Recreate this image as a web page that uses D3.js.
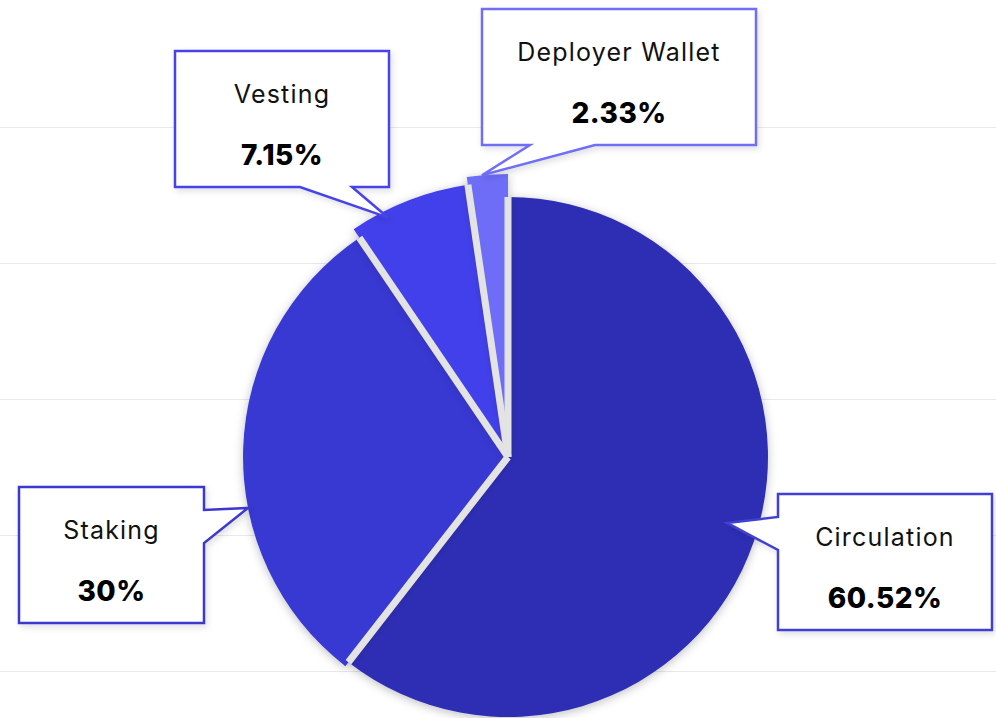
<!DOCTYPE html>
<html>
<head>
<meta charset="utf-8">
<script src="https://cdn.jsdelivr.net/npm/d3@7"></script>
<style>
  html, body { margin: 0; padding: 0; background: #ffffff; }
  svg { display: block; }
</style>
</head>
<body>
<div id="pie-viz"></div>
<script>
// Chart size
const width = 996;
const height = 718;

// Data
const categories = ["Circulation", "Staking", "Vesting", "Deployer Wallet"];
const shares = [60.52, 30, 7.15, 2.33];
const shareLabels = ["60.52%", "30%", "7.15%", "2.33%"];
const gridTicks = [0, 1, 2, 3, 4];

// Styles
const sliceColors = ["#2f2eb5", "#3938d2", "#4341ea", "#6e6df7"];
const borderColors = ["#4241d2", "#3a39d0", "#4643ea", "#6f6ef6"];

const data = categories.map((c, i) => ({ name: c, value: shares[i], label: shareLabels[i], index: i }));

const svg = d3.select("#pie-viz")
    .append("svg")
    .attr("width", width)
    .attr("height", height);

const defs = svg.append("defs");
defs.append("filter")
    .attr("id", "slice-shadow")
    .attr("x", "-20%").attr("y", "-20%").attr("width", "140%").attr("height", "140%")
    .append("feDropShadow")
    .attr("dx", 0).attr("dy", 2).attr("stdDeviation", 5)
    .attr("flood-color", "#000").attr("flood-opacity", 0.25);
defs.append("filter")
    .attr("id", "box-shadow")
    .attr("x", "-20%").attr("y", "-20%").attr("width", "140%").attr("height", "140%")
    .append("feDropShadow")
    .attr("dx", 2).attr("dy", 3).attr("stdDeviation", 3)
    .attr("flood-color", "#000").attr("flood-opacity", 0.12);

// Background grid lines
const yGrid = d3.scaleLinear().domain([0, 4]).range([127, 671]);
svg.append("g")
    .selectAll("line")
    .data(gridTicks)
    .join("line")
    .attr("x1", 0).attr("x2", width)
    .attr("y1", d => yGrid(d) + 0.5).attr("y2", d => yGrid(d) + 0.5)
    .attr("stroke", "#e9e9e9")
    .attr("stroke-width", 1);

// Pie
const cx = 508, cy = 457;
const radius = d3.scaleLog()
    .domain([d3.min(shares), d3.max(shares)])
    .range([283, 260]);

const pie = d3.pie().sort(null).value(d => d.value);
const arcs = pie(data);

const g = svg.append("g").attr("transform", `translate(${cx},${cy})`);

g.selectAll("path.slice")
    .data(arcs)
    .join("path")
    .attr("class", "slice")
    .attr("d", d => d3.arc().innerRadius(0).outerRadius(radius(d.data.value))(d))
    .attr("fill", d => sliceColors[d.data.index])
    .attr("filter", "url(#slice-shadow)");

// Gaps between slices
const gapLen = (d, i) => {
    const prev = arcs[(i + arcs.length - 1) % arcs.length];
    return Math.min(radius(d.data.value), radius(prev.data.value));
};
g.selectAll("line.gap")
    .data(arcs)
    .join("line")
    .attr("class", "gap")
    .attr("x1", 0).attr("y1", 0)
    .attr("x2", (d, i) => gapLen(d, i) * Math.sin(d.startAngle))
    .attr("y2", (d, i) => -gapLen(d, i) * Math.cos(d.startAngle))
    .attr("stroke", "#e3e3e3")
    .attr("stroke-width", 7);

// Callout boxes (layout only)
const boxH = 136;
const callouts = [
    { index: 0, x: 778, y: 494, w: 214, side: "left", t0: 23, t1: 56, frac: 0.49, rf: 0.88 },
    { index: 1, x: 19, y: 487, w: 185, side: "right", t0: 23, t1: 56, frac: 0.38, rf: 1.0 },
    { index: 2, x: 175, y: 51, w: 214, side: "bottom", t0: 125, t1: 177, frac: 0.29, rf: 0.975 },
    { index: 3, x: 482, y: 9, w: 274, side: "bottom", t0: 48, t1: 113, frac: 0.37, rf: 1.0 }
];

function tipPoint(c) {
    const a = arcs[c.index];
    const ang = a.startAngle + (a.endAngle - a.startAngle) * c.frac;
    const r = radius(a.data.value) * c.rf;
    return [cx + r * Math.sin(ang), cy - r * Math.cos(ang)];
}

function calloutPath(c) {
    const { x, y, w, side, t0, t1 } = c;
    const h = boxH;
    const tip = tipPoint(c);
    const pts = [[x, y], [x + w, y]];
    if (side === "right") pts.push([x + w, y + t0], tip, [x + w, y + t1]);
    pts.push([x + w, y + h]);
    if (side === "bottom") pts.push([x + t1, y + h], tip, [x + t0, y + h]);
    pts.push([x, y + h]);
    if (side === "left") pts.push([x, y + t1], tip, [x, y + t0]);
    return "M" + pts.map(p => p.join(",")).join("L") + "Z";
}

const boxes = svg.append("g")
    .selectAll("g.callout")
    .data(callouts)
    .join("g")
    .attr("class", "callout");

boxes.append("path")
    .attr("d", calloutPath)
    .attr("fill", "#ffffff")
    .attr("stroke", d => borderColors[d.index])
    .attr("stroke-width", 2.5)
    .attr("stroke-linejoin", "miter")
    .attr("filter", "url(#box-shadow)");

boxes.append("text")
    .attr("x", d => d.x + d.w / 2)
    .attr("y", d => d.y + 52)
    .attr("text-anchor", "middle")
    .style("font-family", "Inter, 'Open Sans', sans-serif")
    .style("font-size", "25px")
    .style("font-weight", 400)
    .style("letter-spacing", "1.2px")
    .attr("fill", "#111")
    .text(d => data[d.index].name);

boxes.append("text")
    .attr("x", d => d.x + d.w / 2)
    .attr("y", d => d.y + 114)
    .attr("text-anchor", "middle")
    .style("font-family", "Inter, 'Open Sans', sans-serif")
    .style("font-size", "28px")
    .style("font-weight", 800)
    .style("letter-spacing", "0.5px")
    .attr("fill", "#000")
    .text(d => data[d.index].label);
</script>
</body>
</html>
